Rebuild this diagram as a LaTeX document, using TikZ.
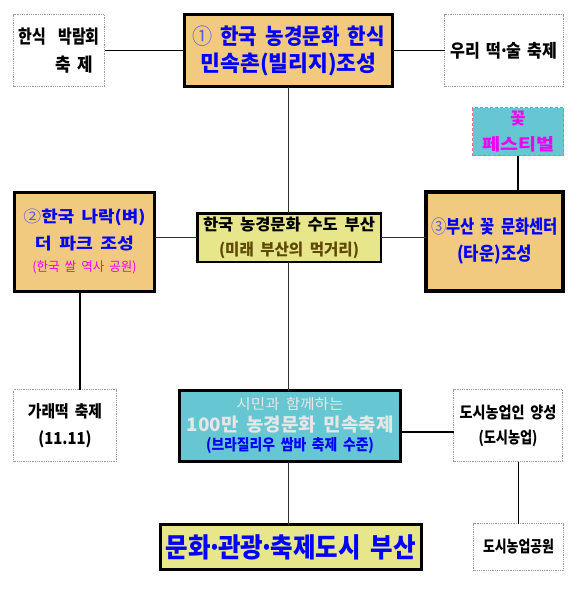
\documentclass[tikz,border=0pt]{standalone}
\usepackage{fontspec}
\setmainfont{Noto Sans CJK KR}[WordSpace=1.8]
\usepackage{graphicx}
\usetikzlibrary{calc}
\newcommand{\fw}[2]{\resizebox{#1pt}{\height}{#2}}
\newcommand{\md}{\makebox[0.3em][c]{·}}
\definecolor{boxtan}{HTML}{F1CA7F}
\definecolor{boxkhaki}{HTML}{E8E68B}
\definecolor{boxcyan}{HTML}{66C7D3}
\definecolor{txtblue}{HTML}{0000FF}
\definecolor{txtmag}{HTML}{F000F0}
\definecolor{circ}{HTML}{5A5AE8}
\definecolor{olivetxt}{HTML}{5C4A00}
\definecolor{lgray}{HTML}{E6E6E6}
\definecolor{dotgray}{HTML}{9A9A9A}
\definecolor{flred}{HTML}{E87080}
\begin{document}
\begin{tikzpicture}[x=1pt,y=-1pt,
  box/.style={inner sep=0pt, outer sep=0pt, align=center, anchor=center},
  plainbox/.style={box, draw=dotgray, densely dotted, line width=0.8pt, text=black},
  tanbox/.style={box, draw=black, fill=boxtan, text=txtblue},
  conn/.style={draw=black, line width=1.3pt},
  thinconn/.style={draw=black!80, line width=0.8pt}]
\fill[white] (0,0) rectangle (580,595);
\useasboundingbox (0,0) rectangle (580,595);

% top row
\node[plainbox, minimum width=91pt, minimum height=72pt, align=left,
  font=\fontsize{18.5}{28}\selectfont\bfseries] (hs) at (59,50.5)
  {\fw{81}{한식~~박람회}\\\hspace*{37pt}\fw{38}{축 제}};
\node[tanbox, line width=3pt, minimum width=208pt, minimum height=72pt,
  font=\fontsize{22}{27}\selectfont\bfseries] (c1) at (288.5,50.5)
  {\fw{193}{{\mdseries\color{circ}①} 한국 농경문화 한식}\\\fw{176}{민속촌(빌리지)조성}};
\node[plainbox, minimum width=119pt, minimum height=72pt,
  font=\fontsize{18}{26}\selectfont\bfseries] (ws) at (504,50.5)
  {\fw{107}{우리 떡\md 술 축제}};

% flower festival
\node[box, draw=flred, densely dashed, line width=0.8pt, fill=boxcyan, text=txtmag,
  minimum width=91pt, minimum height=48pt,
  font=\fontsize{16.5}{26}\selectfont\bfseries] (fl) at (518,131.5)
  {꽃\\\fw{72}{페스티벌}};

% middle row
\node[tanbox, line width=3pt, minimum width=140pt, minimum height=99pt,
  font=\fontsize{16}{27}\selectfont\bfseries] (c2) at (84.5,242)
  {\fw{122}{{\mdseries\color{circ}②}한국 나락(벼)}\\\fw{99}{더 파크 조성}\\[-5pt]{\fontsize{13}{27}\selectfont\mdseries\color{txtmag}\fw{104}{(한국 쌀 역사 공원)}}};
\node[box, draw=black, line width=2.5pt, fill=boxkhaki, text=black,
  minimum width=183.5pt, minimum height=48.5pt,
  font=\fontsize{16}{25}\selectfont\bfseries] (cc) at (289,237.5)
  {\fw{172}{한국 농경문화 수도 부산}\\{\color{olivetxt}\fw{140}{(미래 부산의 먹거리)}}};
\node[tanbox, line width=4pt, minimum width=137pt, minimum height=99pt,
  font=\fontsize{18.5}{27}\selectfont\bfseries] (c3) at (494.5,241.5)
  {\fw{127}{{\mdseries\color{circ}③}부산 꽃 문화센터}\\\fw{75}{(타운)조성}};

% lower row
\node[plainbox, minimum width=103pt, minimum height=72pt,
  font=\fontsize{16.5}{27}\selectfont\bfseries] (gr) at (65,425.5)
  {\fw{74}{가래떡 축제}\\\fw{53}{(11.11)}};
\node[box, draw=black, line width=3pt, fill=boxcyan, text=lgray,
  minimum width=221pt, minimum height=71pt,
  font=\fontsize{18.5}{22}\selectfont\bfseries] (mm) at (290,426)
  {{\fontsize{14.5}{22}\selectfont\mdseries\fw{107}{시민과 함께하는}}\\\fw{207}{100만 농경문화 민속축제}\\[-3pt]{\fontsize{15.5}{22}\selectfont\color{txtblue}\fw{168}{(브라질리우 쌈바 축제 수준)}}};
\node[plainbox, minimum width=109pt, minimum height=72pt,
  font=\fontsize{16}{25}\selectfont\bfseries] (ds) at (508,425.5)
  {\fw{97}{도시농업인 양성}\\\fw{59}{(도시농업)}};

% bottom row
\node[box, draw=black, line width=3pt, fill=boxkhaki, text=txtblue,
  minimum width=261pt, minimum height=45pt,
  font=\fontsize{27}{30}\selectfont\bfseries] (fin) at (291,547)
  {\fw{250}{문화\md 관광\md 축제도시 부산}};
\node[plainbox, minimum width=90pt, minimum height=47pt,
  font=\fontsize{16}{25}\selectfont\bfseries] (dp) at (518.5,547)
  {\fw{71}{도시농업공원}};

% connectors
\draw[conn] (hs.east) -- (c1.west);
\draw[conn] (c1.east) -- (ws.west);
\draw[conn] (fl.south) -- (fl.south |- c3.north);
\draw[thinconn] (c1.south) -- (c1.south |- cc.north);
\draw[thinconn] (cc.south -| c1.south) -- (c1.south |- mm.north);
\draw[thinconn] (mm.south -| c1.south) -- (c1.south |- fin.north);
\draw[thinconn] (cc.west) -- (cc.west -| c2.east);
\draw[thinconn] (cc.east) -- (cc.east -| c3.west);
\coordinate (c2b) at ($(c2.south)+(-4.5,0)$);
\draw[conn] (c2b) -- (c2b |- gr.north);
\coordinate (mme) at ($(mm.east)+(0,6)$);
\draw[conn] (mme) -- (mme -| ds.west);
\draw[conn] (dp.north) -- (dp.north |- ds.south);
\end{tikzpicture}
\end{document}
